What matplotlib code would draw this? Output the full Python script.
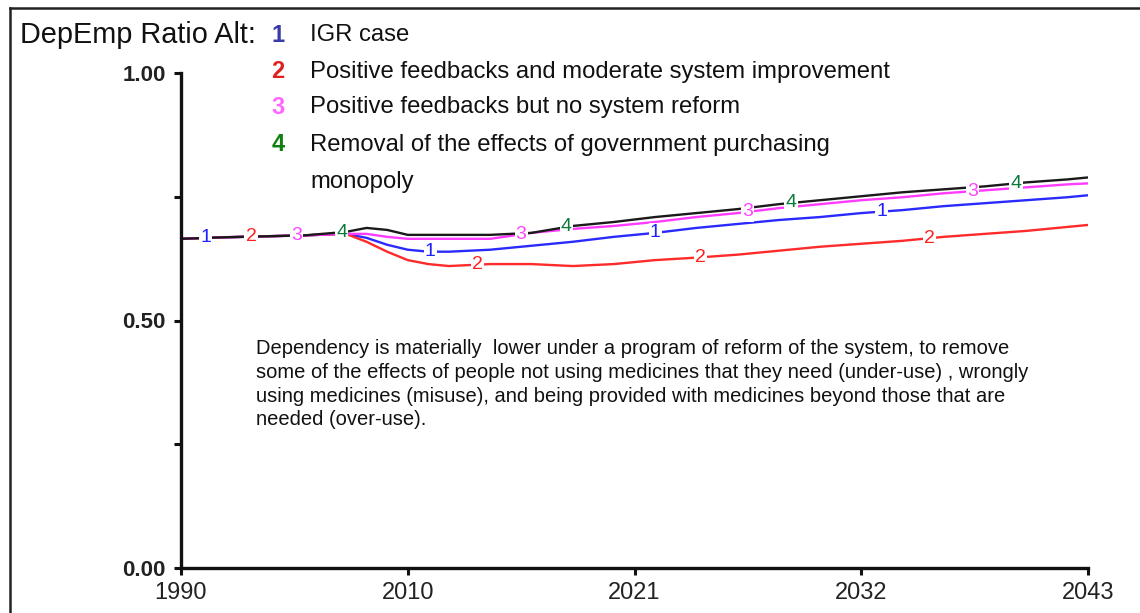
import matplotlib
matplotlib.use("Agg")
import matplotlib.pyplot as plt
from matplotlib.lines import Line2D
import numpy as np

plt.rcParams['font.family'] = ['Liberation Sans', 'DejaVu Sans']

# ---- data ----
years = [1999, 2001, 2003, 2005, 2007, 2008, 2009, 2010, 2011, 2012, 2014, 2016,
         2018, 2020, 2022, 2024, 2026, 2028, 2030, 2032, 2034, 2036, 2038,
         2040, 2042, 2043]
igr_case = [0.665, 0.668, 0.670, 0.672, 0.675, 0.667, 0.653, 0.643, 0.639, 0.639,
            0.643, 0.651, 0.659, 0.669, 0.677, 0.687, 0.695, 0.703, 0.709,
            0.717, 0.723, 0.731, 0.737, 0.743, 0.749, 0.753]
pos_moderate = [0.665, 0.668, 0.670, 0.672, 0.675, 0.659, 0.639, 0.622, 0.614, 0.610,
                0.614, 0.614, 0.610, 0.614, 0.622, 0.627, 0.633, 0.641, 0.649,
                0.655, 0.661, 0.669, 0.675, 0.681, 0.689, 0.693]
pos_no_reform = [0.665, 0.668, 0.670, 0.672, 0.675, 0.675, 0.669, 0.665, 0.665, 0.665,
                 0.665, 0.677, 0.685, 0.691, 0.699, 0.709, 0.717, 0.727, 0.735,
                 0.743, 0.749, 0.757, 0.763, 0.769, 0.775, 0.777]
removal_monopoly = [0.665, 0.668, 0.670, 0.672, 0.679, 0.687, 0.683, 0.673, 0.673, 0.673,
                    0.673, 0.677, 0.691, 0.699, 0.709, 0.717, 0.725, 0.735, 0.743,
                    0.751, 0.759, 0.765, 0.771, 0.779, 0.785, 0.789]

series_names = ["IGR case",
                "Positive feedbacks and moderate system improvement",
                "Positive feedbacks but no system reform",
                "Removal of the effects of government purchasing\nmonopoly"]
series_ids = ["1", "2", "3", "4"]
label_years = [[2000.2, 2011.1, 2022.0, 2033.0],
               [2002.4, 2013.4, 2024.2, 2035.3],
               [2004.6, 2015.5, 2026.5, 2037.4],
               [2006.8, 2017.7, 2028.6, 2039.5]]

x_tick_pos = [1999, 2010, 2021, 2032, 2043]
x_tick_labels = ["1990", "2010", "2021", "2032", "2043"]
y_tick_pos = [0.0, 0.25, 0.5, 0.75, 1.0]
y_tick_labels = ["0.00", "", "0.50", "", "1.00"]

title = "DepEmp Ratio Alt:"
note = ("Dependency is materially  lower under a program of reform of the system, to remove\n"
        "some of the effects of people not using medicines that they need (under-use) , wrongly\n"
        "using medicines (misuse), and being provided with medicines beyond those that are\n"
        "needed (over-use).")

line_colors = ["#2a2aff", "#ff2a2a", "#ff3cff", "#1a1a1a"]
num_colors = ["#2020ff", "#ff2020", "#ff44ff", "#0a7a3a"]
legend_num_colors = ["#3a3aa8", "#e02020", "#ff66ff", "#108010"]

W, H = 1140, 613
fig = plt.figure(figsize=(W / 100, H / 100), dpi=100)
fig.patch.set_facecolor("white")

def fx(px):
    return px / W

def fy(py):
    return 1 - py / H

ax = fig.add_axes([fx(181), fy(568), (1088 - 181) / W, (568 - 73) / H])
all_series = [igr_case, pos_moderate, pos_no_reform, removal_monopoly]
for vals, c in zip(all_series, line_colors):
    ax.plot(years, vals, color=c, lw=1.7, zorder=2, solid_capstyle="butt")

for i, vals in enumerate(all_series):
    for ly in label_years[i]:
        yv = np.interp(ly, years, vals)
        ax.text(ly, yv, series_ids[i], color=num_colors[i], fontsize=14,
                ha="center", va="center", zorder=5,
                bbox=dict(boxstyle="square,pad=0.06", fc="white", ec="none"))

ax.set_xlim(1999, 2043)
ax.set_ylim(0, 1)
ax.set_xticks(x_tick_pos)
ax.set_xticklabels(x_tick_labels, fontsize=17, color="#222222")
ax.set_yticks(y_tick_pos)
ax.set_yticklabels(y_tick_labels, fontsize=16, color="#222222", fontweight="bold")
ax.tick_params(axis="both", direction="out", length=5, width=2.2, color="#111111", pad=3)
ax.tick_params(axis="x", pad=5)
ax.tick_params(axis="y", pad=6)
for s in ["top", "right"]:
    ax.spines[s].set_visible(False)
for s in ["left", "bottom"]:
    ax.spines[s].set_linewidth(2.4)
    ax.spines[s].set_color("#111111")
ax.set_facecolor("none")

# frame (top and left border of the picture)
fig.add_artist(Line2D([fx(10), 1.0], [fy(8), fy(8)], color="#222222", lw=1.8))
fig.add_artist(Line2D([fx(10), fx(10)], [fy(8), 0.0], color="#222222", lw=1.8))

# title and legend
fig.text(fx(20), fy(35), title, fontsize=20.8, color="#111111", ha="left", va="center")
leg_rows = [35, 72, 107, 145]
for i in range(4):
    fig.text(fx(278), fy(leg_rows[i]), series_ids[i], fontsize=17, color=legend_num_colors[i],
             ha="center", va="center", fontweight="bold")
    fig.text(fx(310), fy(leg_rows[i]), series_names[i].split("\n")[0], fontsize=17.2,
             color="#111111", ha="left", va="center")
fig.text(fx(310), fy(182), series_names[3].split("\n")[1], fontsize=17.2,
         color="#111111", ha="left", va="center")

# annotation
fig.text(fx(256), fy(339), note, fontsize=14.5, color="#111111", ha="left", va="top",
         linespacing=1.32)

fig.savefig("out.png", dpi=100, facecolor="white")
